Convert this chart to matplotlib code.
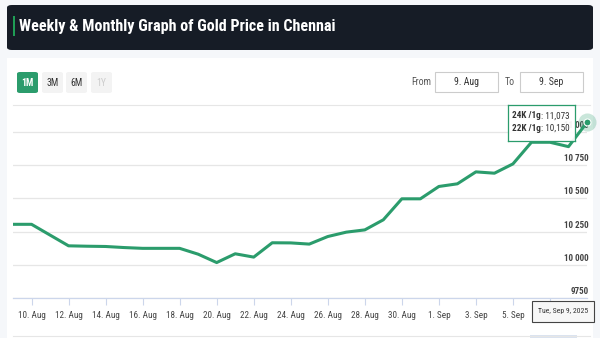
import matplotlib
matplotlib.use('Agg')
import matplotlib.pyplot as plt
from matplotlib.patches import FancyBboxPatch, Rectangle
import pandas as pd

plt.rcParams['font.family'] = ['Liberation Sans Narrow', 'Roboto Condensed',
                               'Liberation Sans', 'DejaVu Sans']

# data
dates = pd.date_range('2025-08-09', '2025-09-09', freq='D')
price_24k = [10305, 10305, 10224, 10143, 10140, 10138, 10130, 10124, 10124, 10124,
             10080, 10017, 10083, 10058, 10166, 10165, 10156, 10213, 10246, 10263,
             10339, 10497, 10497, 10590, 10610, 10700, 10690, 10760, 10923, 10923,
             10890, 11073]
tick_dates = ['2025-08-10', '2025-08-12', '2025-08-14', '2025-08-16', '2025-08-18',
              '2025-08-20', '2025-08-22', '2025-08-24', '2025-08-26', '2025-08-28',
              '2025-08-30', '2025-09-01', '2025-09-03', '2025-09-05', '2025-09-07']
y_ticks = [9750, 10000, 10250, 10500, 10750, 11000]
y_labels = ['9750', '10 000', '10 250', '10 500', '10 750', '11 000']
buttons = ['1M', '3M', '6M', '1Y']

W, H = 600, 338
GREEN = '#2b9c6c'
fig = plt.figure(figsize=(6, 3.38), dpi=100)
fig.patch.set_facecolor('#f5f7fa')


def box(x, y, w, h):
    # pixel coords from top-left -> figure fraction
    return (x / W, 1 - (y + h) / H, w / W, h / H)


def fx(x):
    return x / W


def fy(y):
    return 1 - y / H


# white card
x0, y0, w0, h0 = box(7, 58, 586, 290)
fig.patches.append(Rectangle((x0, y0), w0, h0, transform=fig.transFigure,
                             fc='white', ec='none', zorder=-5))

# header
x0, y0, w0, h0 = box(7, 5, 586, 45)
fig.patches.append(FancyBboxPatch((x0, y0), w0, h0,
                                  boxstyle='round,pad=0,rounding_size=0.008',
                                  transform=fig.transFigure, fc='#161c26', ec='none'))
x0, y0, w0, h0 = box(13, 16, 2, 20)
fig.patches.append(Rectangle((x0, y0), w0, h0, transform=fig.transFigure,
                             fc='#1f9d55', ec='none'))
fig.text(fx(19), fy(27), 'Weekly & Monthly Graph of Gold Price in Chennai',
         color='white', fontsize=11.6, fontweight='bold', va='center', ha='left')

# range buttons
bx = [17, 42, 66, 91]
for i, (b, x) in enumerate(zip(buttons, bx)):
    x0, y0, w0, h0 = box(x, 72, 21, 21)
    fc = GREEN if i == 0 else '#f3f3f3'
    tc = 'white' if i == 0 else ('#333333' if i < 3 else '#cccccc')
    fig.patches.append(FancyBboxPatch((x0, y0), w0, h0,
                                      boxstyle='round,pad=0,rounding_size=0.005',
                                      transform=fig.transFigure, fc=fc, ec='none'))
    fig.text(fx(x + 10.5), fy(82.5), b, color=tc, fontsize=7,
             fontweight='bold' if i == 0 else 'normal', ha='center', va='center')

# date inputs
fig.text(fx(421), fy(82), 'From', fontsize=7, color='#555555', ha='center', va='center')
fig.text(fx(510), fy(82), 'To', fontsize=7, color='#555555', ha='center', va='center')
for x, w, t in [(435, 63, '9. Aug'), (520, 63, '9. Sep')]:
    x0, y0, w0, h0 = box(x, 72, w, 20)
    fig.patches.append(Rectangle((x0, y0), w0, h0, transform=fig.transFigure,
                                 fc='white', ec='#cccccc', lw=0.8))
    fig.text(fx(x + w / 2), fy(82), t, fontsize=7, color='#333333',
             ha='center', va='center')

# separator under the buttons
fig.add_artist(plt.Line2D([fx(13), fx(590)], [fy(105), fy(105)],
                          transform=fig.transFigure, color='#e6e6e6', lw=0.8))

# chart
ax = fig.add_axes(box(13, 110, 574, 188))
ax.set_zorder(2)
ax.set_facecolor('none')
ax.plot(dates, price_24k, color=GREEN, lw=2.2, solid_joinstyle='round', zorder=3)
ax.set_xlim(dates[0], dates[-1])
ax.set_ylim(9750, 11166)

ax.set_yticks(y_ticks)
ax.yaxis.grid(True, color='#e6e6e6', lw=0.9)
ax.tick_params(axis='y', length=0, labelleft=False)
for v, lab in zip(y_ticks, y_labels):
    ax.annotate(lab, xy=(1, v), xycoords=('axes fraction', 'data'),
                xytext=(1, 1.5), textcoords='offset points', ha='right', va='bottom',
                fontsize=6.5, fontweight='bold', color='#444444', zorder=2)

ticks = pd.to_datetime(tick_dates)
ax.set_xticks(ticks)
# the last label (7. Sep) sits under the date tooltip in the reference
ax.set_xticklabels([f'{d.day}. {d.strftime("%b")}' for d in ticks[:-1]] + [''])
ax.tick_params(axis='x', length=5, width=0.8, color='#ccd6eb', labelsize=6.6,
               labelcolor='#444444', pad=4)
for s in ['top', 'right', 'left']:
    ax.spines[s].set_visible(False)
ax.spines['bottom'].set_color('#ccd6eb')
ax.spines['bottom'].set_linewidth(0.9)

# hover marker on last point
ax.plot(dates[-1:], price_24k[-1:], 'o', ms=13, color=GREEN, alpha=0.25,
        mec='none', zorder=4, clip_on=False)
ax.plot(dates[-1:], price_24k[-1:], 'o', ms=5, color=GREEN, mec='white',
        mew=0.8, zorder=5, clip_on=False)

# value tooltip
tip = fig.add_axes(box(508, 105, 67, 36))
tip.set_zorder(5)
tip.set_xticks([])
tip.set_yticks([])
tip.set_facecolor((1, 1, 1, 0.93))
for s in tip.spines.values():
    s.set_color(GREEN)
    s.set_linewidth(0.9)
for yy, key, val in [(0.7, '24K /1g', ': 11,073'), (0.36, '22K /1g', ': 10,150')]:
    t1 = tip.text(0.06, yy, key, fontsize=6.6, fontweight='bold', color='#333333',
                  va='center', transform=tip.transAxes)
    tip.annotate(val, xy=(1, 0.5), xycoords=t1, va='center', ha='left',
                 fontsize=6.6, color='#333333')

# date tooltip
x0, y0, w0, h0 = box(532, 301, 62, 21)
fig.patches.append(Rectangle((x0, y0), w0, h0, transform=fig.transFigure,
                             fc='#f7f7f7', ec='#444444', lw=0.8, zorder=10))
fig.text(fx(563), fy(311.5), 'Tue, Sep 9, 2025', fontsize=5.6, color='#333333',
         ha='center', va='center', zorder=11)

# navigator top edge
fig.add_artist(plt.Line2D([fx(13), fx(590)], [fy(335.5), fy(335.5)],
                          transform=fig.transFigure, color='#e6e6e6', lw=0.8))
x0, y0, w0, h0 = box(530, 335, 47, 3)
fig.patches.append(Rectangle((x0, y0), w0, h0, transform=fig.transFigure,
                             fc='#dbe3f0', ec='none'))

fig.savefig('out.png', dpi=100, facecolor=fig.get_facecolor())
